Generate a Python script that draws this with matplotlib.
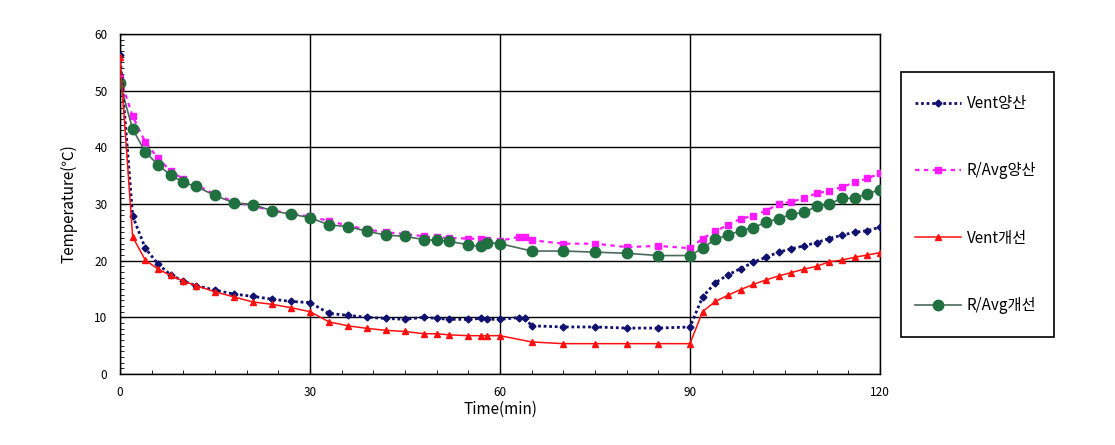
import numpy as np
import matplotlib
matplotlib.use('Agg')
import matplotlib.pyplot as plt
from matplotlib.ticker import MultipleLocator
from matplotlib.patches import Rectangle

plt.rcParams['font.family'] = ['Noto Sans CJK KR', 'DejaVu Sans']

# 데이터
t_base = [0, 2, 4, 6, 8, 10, 12, 15, 18, 21, 24, 27, 30, 33, 36, 39, 42, 45, 48, 50, 52, 55, 57, 58, 60,
          65, 70, 75, 80, 85, 90, 92, 94, 96, 98, 100, 102, 104, 106, 108, 110, 112, 114, 116, 118, 120]
t_extra = [0, 2, 4, 6, 8, 10, 12, 15, 18, 21, 24, 27, 30, 33, 36, 39, 42, 45, 48, 50, 52, 55, 57, 58, 60,
           63, 64, 65, 70, 75, 80, 85, 90, 92, 94, 96, 98, 100, 102, 104, 106, 108, 110, 112, 114, 116, 118, 120]

vent_yang = [56.3, 27.9, 22.2, 19.4, 17.5, 16.4, 15.6, 14.8, 14.1, 13.7, 13.2, 12.8, 12.6, 10.7, 10.35, 10.0,
             9.8, 9.65, 10.0, 9.8, 9.65, 9.65, 9.8, 9.65, 9.65, 9.95, 9.8, 8.5, 8.3, 8.3, 8.1, 8.1, 8.3,
             13.6, 16.1, 17.5, 18.6, 19.7, 20.6, 21.5, 22.1, 22.6, 23.2, 23.9, 24.5, 25.0, 25.3, 25.9]
ravg_yang = [52.3, 45.5, 40.9, 38.1, 35.8, 34.4, 33.4, 31.7, 30.4, 29.6, 28.9, 28.3, 27.8, 27.0, 26.2, 25.5,
             25.0, 24.7, 24.3, 24.1, 24.0, 23.9, 23.8, 23.6, 23.5, 24.2, 24.2, 23.6, 23.0, 23.0, 22.4, 22.6, 22.2,
             23.9, 25.2, 26.3, 27.4, 27.9, 28.8, 30.0, 30.4, 31.0, 31.9, 32.3, 33.0, 33.8, 34.5, 35.4]
vent_gae = [56.0, 24.2, 20.1, 18.5, 17.4, 16.4, 15.6, 14.5, 13.6, 12.7, 12.3, 11.7, 11.0, 9.2, 8.5, 8.05,
            7.7, 7.5, 7.1, 7.1, 6.9, 6.76, 6.76, 6.76, 6.76, 5.65, 5.35, 5.35, 5.35, 5.35, 5.35,
            11.0, 12.8, 13.9, 14.9, 15.8, 16.6, 17.3, 17.9, 18.5, 19.0, 19.8, 20.1, 20.6, 21.0, 21.4]
ravg_gae = [51.3, 43.2, 39.2, 36.9, 35.1, 33.8, 33.1, 31.5, 30.2, 29.9, 28.8, 28.2, 27.6, 26.3, 26.0, 25.2,
            24.5, 24.3, 23.7, 23.6, 23.4, 22.8, 22.5, 23.2, 23.0, 21.7, 21.7, 21.5, 21.3, 20.9, 20.9,
            22.2, 23.8, 24.5, 25.3, 25.8, 26.8, 27.4, 28.2, 28.5, 29.6, 30.0, 31.0, 31.0, 31.8, 32.5]

fig = plt.figure(figsize=(11.15, 4.45), dpi=100)
ax = fig.add_axes([0.1076, 0.1596, 0.6816, 0.764])

l1, = ax.plot(t_extra, vent_yang, color='#10106e', linestyle=(0, (1, 1)), linewidth=2,
              marker='D', markersize=3.5, label='Vent양산', zorder=4)
l2, = ax.plot(t_extra, ravg_yang, color='#ff1aff', linestyle=(0, (2, 2)), linewidth=1.6,
              marker='s', markersize=5, label='R/Avg양산', zorder=3)
l3, = ax.plot(t_base, vent_gae, color='#ff1010', linestyle='-', linewidth=1.1,
              marker='^', markersize=5, label='Vent개선', zorder=5)
l4, = ax.plot(t_base, ravg_gae, color='#4a6b5a', linestyle='-', linewidth=1.2,
              marker='o', markersize=7.5, markerfacecolor='#21703f', markeredgecolor='#21703f',
              label='R/Avg개선', zorder=3)

ax.set_xlim(0, 120)
ax.set_ylim(0, 60)
ax.xaxis.set_major_locator(MultipleLocator(30))
ax.xaxis.set_minor_locator(MultipleLocator(5))
ax.yaxis.set_major_locator(MultipleLocator(10))
ax.yaxis.set_minor_locator(MultipleLocator(1))
ax.tick_params(which='both', direction='in', labelsize=8.5, colors='black')
ax.tick_params(which='major', length=4, pad=9)
ax.tick_params(which='minor', length=3)
ax.grid(True, which='major', color='black', linewidth=1)
for s in ax.spines.values():
    s.set_linewidth(1)
    s.set_color('black')

ax.set_xlabel('Time(min)', fontsize=11, labelpad=1)
ax.set_ylabel('Temperature(℃)', fontsize=11, labelpad=12)

# 범례 테두리
fig.patches.append(Rectangle((0.8081, 0.2427), 0.1372, 0.5955, transform=fig.transFigure,
                             fill=False, edgecolor='black', linewidth=1.2))
leg = fig.legend(handles=[l1, l2, l3, l4], loc='center left', bbox_to_anchor=(0.8206, 0.5404),
                 frameon=False, fontsize=11, labelspacing=3.3, borderpad=0,
                 handlelength=3.0, handletextpad=0.4, borderaxespad=0)

fig.savefig('out.png', dpi=100)
